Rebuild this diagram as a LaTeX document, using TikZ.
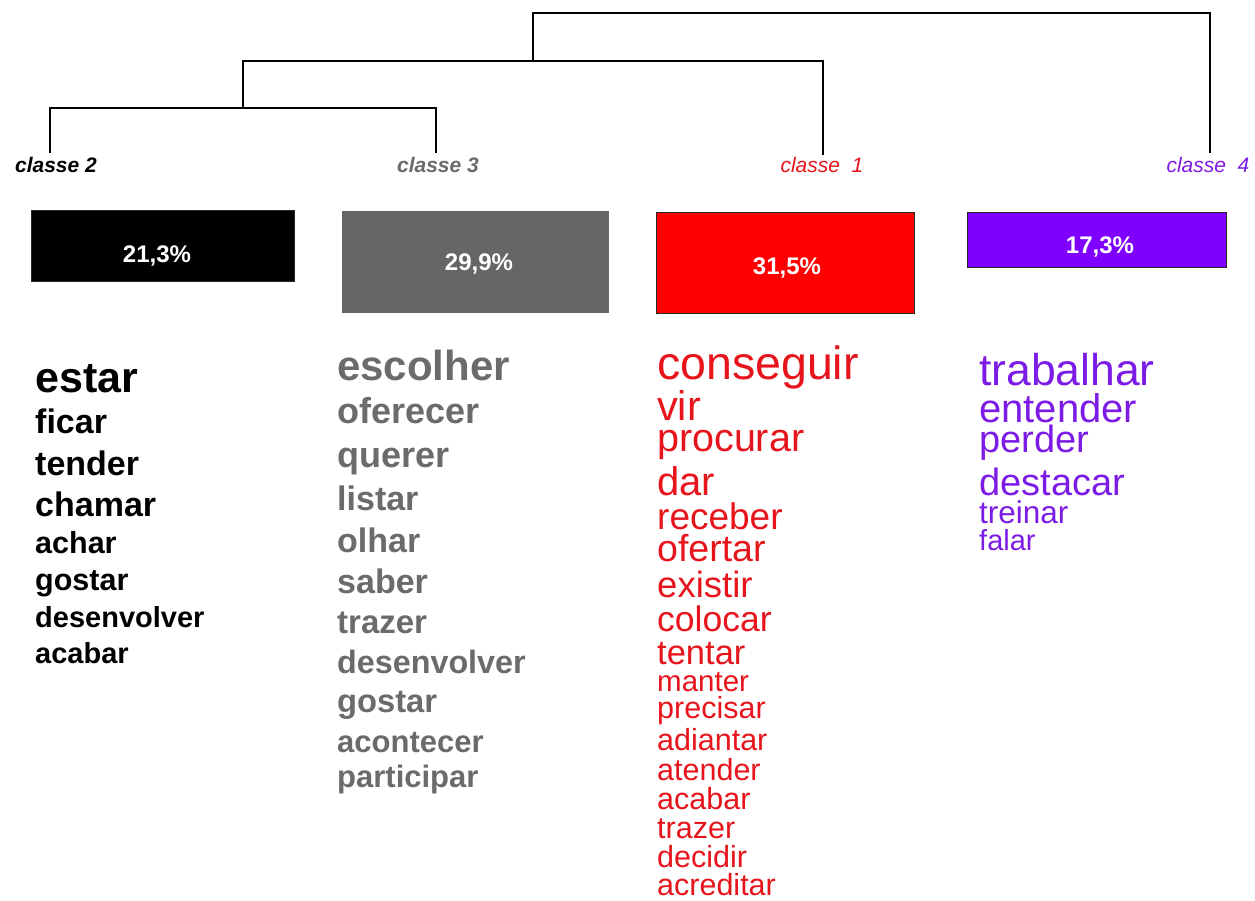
\documentclass[tikz,border=0pt]{standalone}
\usepackage{fontspec}
\setmainfont{Liberation Sans}
\definecolor{cgray}{HTML}{6B6B6B}
\definecolor{boxgray}{HTML}{666666}
\definecolor{cred}{HTML}{E8141C}
\definecolor{boxred}{HTML}{FF0000}
\definecolor{cpurple}{HTML}{7D1BE6}
\definecolor{boxpurple}{HTML}{8000FF}
\newcommand{\fs}[1]{\fontsize{#1}{#1}\selectfont}

\begin{document}
\begin{tikzpicture}[x=1pt,y=-1pt,
  link/.style={line width=1.6pt, black},
  clabel/.style={inner sep=0pt, anchor=base, font=\fs{21}\itshape},
  pbox/.style={draw=black!85, line width=1pt, anchor=north west, inner sep=0pt},
  pct/.style={text=white, font=\fs{24}\bfseries, anchor=base, inner sep=0pt},
  word/.style={anchor=base west, inner sep=0pt},
  w2/.style={word, text=black, font=\fs{#1}\bfseries},
  w3/.style={word, text=cgray, font=\fs{#1}\bfseries},
  w1/.style={word, text=cred, font=\fs{#1}},
  w4/.style={word, text=cpurple, font=\fs{#1}},
]
\useasboundingbox[fill=white] (0,0) rectangle (1255,900);

% class labels
\node[clabel, font=\fs{21}\bfseries\itshape, text=black] (lab2) at (56,172) {classe 2};
\node[clabel, font=\fs{21}\bfseries\itshape, text=cgray] (lab3) at (438,172) {classe 3};
\node[clabel, text=cred] (lab1) at (822,172) {classe~~1};
\node[clabel, text=cpurple] (lab4) at (1208,172) {classe~~4};

% dendrogram
\coordinate (t2) at (50,153);
\coordinate (t3) at (436,153);
\coordinate (t1) at (823,155);
\coordinate (t4) at (1210,153);
\coordinate (j23) at (243,108);
\coordinate (j231) at (533,61);
\coordinate (root) at (870,13);
\draw[link] (t2) |- (j23) -| (t3);
\draw[link] (j23) |- (j231) -| (t1);
\draw[link] (j231) |- (root) -| (t4);

% percentage boxes
\node[pbox, fill=black, minimum width=263pt, minimum height=71pt] (box2) at (31,210) {};
\node[pbox, fill=boxgray, draw=boxgray, minimum width=266pt, minimum height=101pt] (box3) at (342,211) {};
\node[pbox, fill=boxred, minimum width=258pt, minimum height=101pt] (box1) at (656,212) {};
\node[pbox, fill=boxpurple, minimum width=259pt, minimum height=55pt] (box4) at (967,212) {};
\node[pct] (p2) at (157,262) {21,3\%};
\node[pct] (p3) at (479,270) {29,9\%};
\node[pct] (p1) at (787,274) {31,5\%};
\node[pct] (p4) at (1100,253) {17,3\%};

% classe 2
\node[w2=43] (a1) at (35,392) {estar};
\node[w2=34] (a2) at (35,433) {ficar};
\node[w2=34] (a3) at (35,475) {tender};
\node[w2=34] (a4) at (35,516) {chamar};
\node[w2=30.5] (a5) at (35,553) {achar};
\node[w2=30.5] (a6) at (35,590) {gostar};
\node[w2=29] (a7) at (35,627) {desenvolver};
\node[w2=29] (a8) at (35,663) {acabar};

% classe 3
\node[w3=42] (b1) at (337,380) {escolher};
\node[w3=36] (b2) at (337,423) {oferecer};
\node[w3=36] (b3) at (337,467) {querer};
\node[w3=34] (b4) at (337,510) {listar};
\node[w3=34] (b5) at (337,552) {olhar};
\node[w3=34] (b6) at (337,593) {saber};
\node[w3=33] (b7) at (337,633) {trazer};
\node[w3=32.3] (b8) at (337,673) {desenvolver};
\node[w3=32.7] (b9) at (337,712) {gostar};
\node[w3=31] (b10) at (337,752) {acontecer};
\node[w3=31] (b11) at (337,787) {participar};

% classe 1
\node[w1=46.5] (c1) at (657,379) {conseguir};
\node[w1=41.5] (c2) at (657,420) {vir};
\node[w1=39.5] (c3) at (657,451) {procurar};
\node[w1=40] (c4) at (657,495) {dar};
\node[w1=37] (c5) at (657,529) {receber};
\node[w1=37.5] (c6) at (657,561) {ofertar};
\node[w1=36.5] (c7) at (657,597) {existir};
\node[w1=35.5] (c8) at (657,631) {colocar};
\node[w1=34.5] (c9) at (657,664) {tentar};
\node[w1=29.5] (c10) at (657,691) {manter};
\node[w1=30.5] (c11) at (657,718) {precisar};
\node[w1=30.5] (c12) at (657,750) {adiantar};
\node[w1=30.5] (c13) at (657,780) {atender};
\node[w1=30.5] (c14) at (657,809) {acabar};
\node[w1=30.5] (c15) at (657,838) {trazer};
\node[w1=30.5] (c16) at (657,867) {decidir};
\node[w1=30.5] (c17) at (657,895) {acreditar};

% classe 4
\node[w4=44.5] (d1) at (979,385) {trabalhar};
\node[w4=40] (d2) at (979,422) {entender};
\node[w4=38] (d3) at (979,452) {perder};
\node[w4=38] (d4) at (979,495) {destacar};
\node[w4=31.5] (d5) at (979,523) {treinar};
\node[w4=29] (d6) at (979,550) {falar};
\end{tikzpicture}
\end{document}
